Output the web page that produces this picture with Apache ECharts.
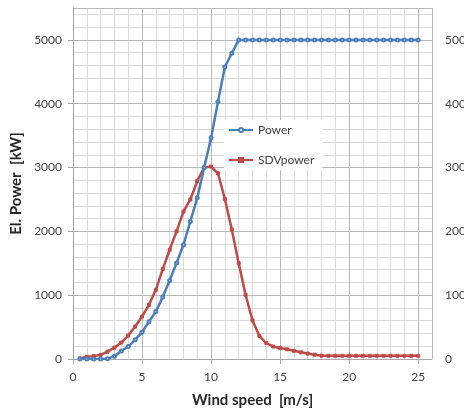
<!DOCTYPE html>
<html><head><meta charset="utf-8">
<script src="https://cdn.jsdelivr.net/npm/echarts@6/dist/echarts.min.js"></script>
<style>html,body{margin:0;padding:0;background:#fff;}#c{width:464px;height:410px;}</style>
</head><body><div id="c"></div>
<script>
var windSpeed = [0.5,1,1.5,2,2.5,3,3.5,4,4.5,5,5.5,6,6.5,7,7.5,8,8.5,9,9.5,10,10.5,11,11.5,12,12.5,13,13.5,14,14.5,15,15.5,16,16.5,17,17.5,18,18.5,19,19.5,20,20.5,21,21.5,22,22.5,23,23.5,24,24.5,25];
var power = [0,0,0,0,5,45,125,195,300,420,585,745,970,1230,1505,1790,2155,2525,3000,3465,4030,4575,4790,5000,5000,5000,5000,5000,5000,5000,5000,5000,5000,5000,5000,5000,5000,5000,5000,5000,5000,5000,5000,5000,5000,5000,5000,5000,5000,5000];
var sdvPower = [10,35,45,65,115,178,257,367,508,665,848,1084,1409,1712,2000,2310,2500,2790,3000,3015,2910,2505,2030,1500,1005,605,360,250,195,172,152,128,105,85,68,52,50,50,50,50,50,50,50,50,50,50,50,50,50,50];
var seriesNames = ['Power','SDVpower'];
var xTitle = 'Wind speed  [m/s]';
var yTitle = 'El. Power  [kW]';

function pairs(ys){ return windSpeed.map(function(x,i){ return [x, ys[i]]; }); }
function plain(v){ return String(v); }
var font = 'Lato, "Noto Sans", sans-serif';
var chart = echarts.init(document.getElementById('c'), null, {renderer:'canvas'});
chart.setOption({
  animation:false,
  backgroundColor:'#fff',
  textStyle:{fontFamily:font},
  grid:{left:73,right:32,top:8,bottom:51,containLabel:false,outerBoundsMode:'none'},
  legend:{
    orient:'vertical', left:224, top:120, padding:[4,8,4,4],
    backgroundColor:'#fff', itemWidth:24, itemHeight:5, itemGap:18,
    textStyle:{fontFamily:font,fontSize:12,color:'#404040'},
    data:seriesNames
  },
  xAxis:[{
    type:'value', min:0, max:26, interval:5, z:1,
    name:xTitle, nameLocation:'middle', nameGap:34,
    nameTextStyle:{fontFamily:font,fontSize:15,fontWeight:'bold',color:'#262626'},
    axisLine:{show:true,lineStyle:{color:'#a6a6a6',width:1}},
    axisTick:{show:true,length:5,lineStyle:{color:'#a6a6a6'}},
    axisLabel:{showMaxLabel:false,margin:12,fontFamily:font,fontSize:12,color:'#404040',formatter:plain},
    splitLine:{show:true,lineStyle:{color:'#b8b8b8',width:1}}
  },{
    type:'value', min:0, max:26, interval:1, z:0, position:'bottom',
    axisLine:{show:false}, axisTick:{show:false}, axisLabel:{show:false},
    splitLine:{show:true,lineStyle:{color:'#dadada',width:1}}
  }],
  yAxis:[{
    type:'value', min:0, max:5500, interval:1000, z:1, position:'left',
    name:yTitle, nameLocation:'middle', nameGap:37, nameRotate:90,
    nameTextStyle:{fontFamily:font,fontSize:15,fontWeight:'bold',color:'#262626'},
    axisLine:{show:true,lineStyle:{color:'#a6a6a6',width:1}},
    axisTick:{show:true,length:5,lineStyle:{color:'#a6a6a6'}},
    axisLabel:{showMaxLabel:false,margin:11,fontFamily:font,fontSize:12,color:'#404040',formatter:plain},
    splitLine:{show:true,lineStyle:{color:'#b8b8b8',width:1}}
  },{
    type:'value', min:0, max:5500, interval:1000, z:1, position:'right',
    axisLine:{show:true,lineStyle:{color:'#a6a6a6',width:1}},
    axisTick:{show:true,length:5,lineStyle:{color:'#a6a6a6'}},
    axisLabel:{showMaxLabel:false,margin:13,fontFamily:font,fontSize:12,color:'#404040',formatter:plain},
    splitLine:{show:false}
  },{
    type:'value', min:0, max:5500, interval:200, z:0, position:'left',
    axisLine:{show:false}, axisTick:{show:false}, axisLabel:{show:false},
    splitLine:{show:true,lineStyle:{color:'#dadada',width:1}}
  }],
  series:[{
    name:seriesNames[0], type:'line', xAxisIndex:0, yAxisIndex:0, z:3,
    data:pairs(power),
    symbol:'emptyCircle', symbolSize:3, showSymbol:true,
    lineStyle:{color:'#4a7ebb',width:2.5},
    itemStyle:{color:'#4a7ebb',borderColor:'#4a7ebb',borderWidth:1}
  },{
    name:seriesNames[1], type:'line', xAxisIndex:0, yAxisIndex:0, z:2,
    data:pairs(sdvPower),
    symbol:'rect', symbolSize:3, showSymbol:true,
    lineStyle:{color:'#be4b48',width:2.5},
    itemStyle:{color:'#be4b48',borderColor:'#be4b48',borderWidth:1}
  }]
});
</script></body></html>
